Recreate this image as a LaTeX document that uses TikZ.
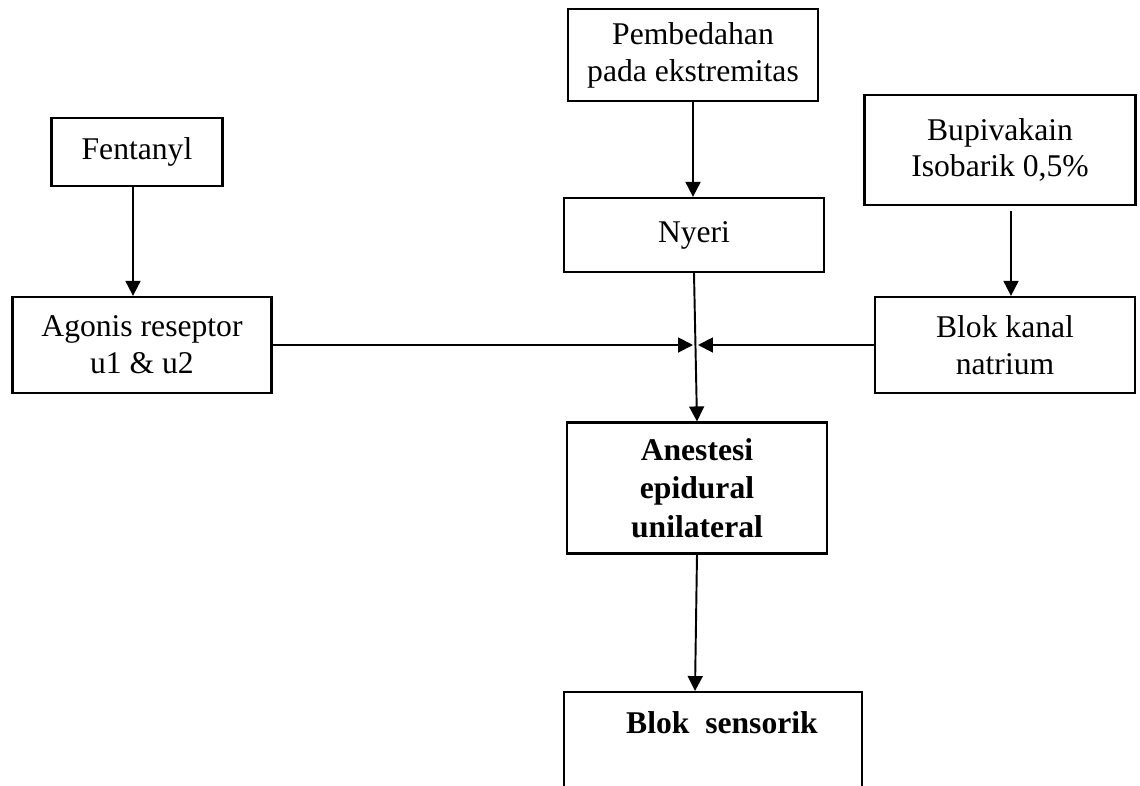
\documentclass[tikz,border=0pt]{standalone}
\usepackage{fontspec}
\setmainfont{Liberation Serif}
\usetikzlibrary{arrows.meta,positioning}
\tikzset{
  body/.style={font=\fontsize{18}{21}\selectfont,align=center},
  box/.style={body,draw=black,line width=1.3pt,inner sep=2pt},
  boldbox/.style={box,font=\bfseries\fontsize{18}{22}\selectfont},
  arr/.style={-{Triangle[length=8.5pt,width=8.5pt]},draw=black,line width=1.1pt}
}
\begin{document}
\begin{tikzpicture}[x=0.02cm,y=-0.02cm]
\clip (0,0) rectangle (1140,785);
% left column
\node[box,minimum width=3.42cm,minimum height=1.36cm] (fentanyl) at (137,152) {Fentanyl};
\node[box,minimum width=5.18cm,minimum height=1.92cm] (agonis) at (142,345) {Agonis reseptor\\u1 \& u2};
% middle column
\node[box,minimum width=5.0cm,minimum height=1.84cm] (bedah) at (693,55) {Pembedahan\\pada ekstremitas};
\node[box,minimum width=5.2cm,minimum height=1.48cm] (nyeri) at (694,235) {Nyeri};
\node[boldbox,minimum width=5.2cm,minimum height=2.62cm] (anestesi) at (697,488) {Anestesi\\epidural\\unilateral};
\node[boldbox,anchor=north,minimum width=5.96cm,inner sep=0pt,text height=0.82cm,text depth=2cm] (sensorik) at (713,691) {\hspace*{0.36cm}Blok\ \ sensorik};
% right column
\node[box,minimum width=5.42cm,minimum height=2.2cm] (bupi) at (1000,150) {Bupivakain\\Isobarik 0,5\%};
\node[box,minimum width=5.2cm,minimum height=1.92cm] (kanal) at (1005,345) {Blok kanal\\natrium};
% meeting point
\coordinate (jl) at (693,345);
\coordinate (jr) at (698,345);
% connectors
\draw[arr] ([xshift=-0.08cm]fentanyl.south) -- ([xshift=-0.08cm]fentanyl.south |- agonis.north);
\draw[arr] ([xshift=0.22cm,yshift=-0.1cm]bupi.south) -- ([xshift=0.22cm]bupi.south |- kanal.north);
\draw[arr] (bedah.south) -- (bedah.south |- nyeri.north);
\draw[arr] (nyeri.south) -- (anestesi.north);
\draw[arr] (agonis.east) -- (jl);
\draw[arr] (kanal.west) -- (jr);
\draw[arr] (anestesi.south) -- ([xshift=-0.04cm]anestesi.south |- sensorik.north);
\end{tikzpicture}
\end{document}
